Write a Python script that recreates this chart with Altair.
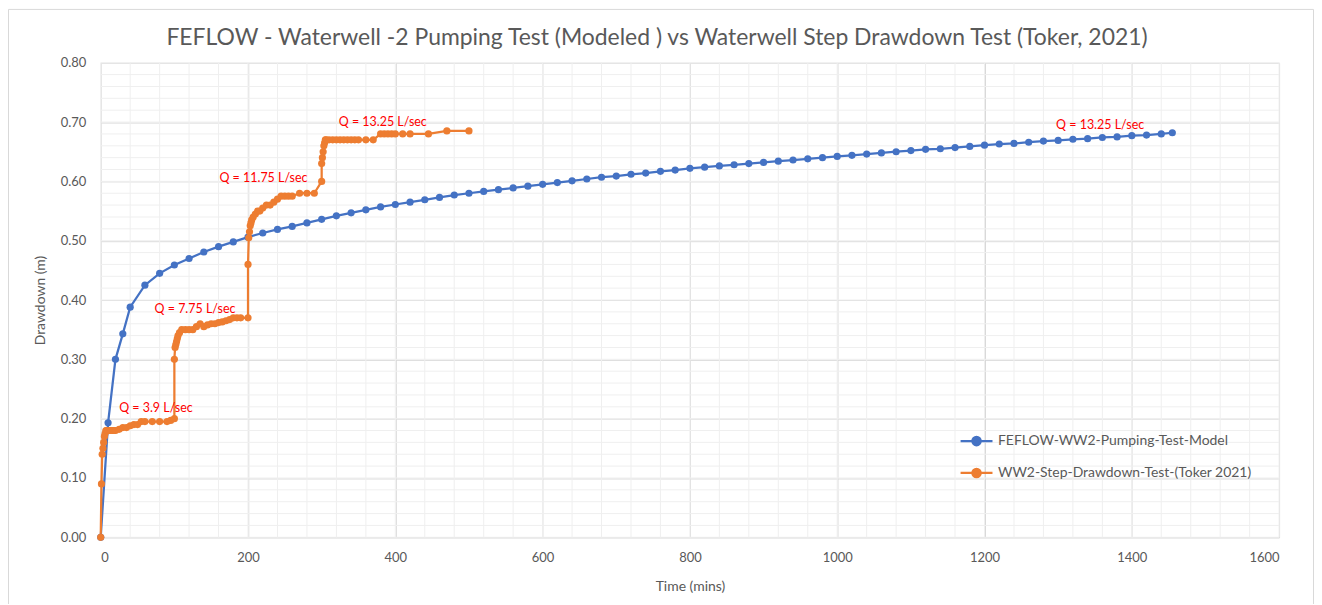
import altair as alt
import pandas as pd

# ---- data ----
blue_name = "FEFLOW-WW2-Pumping-Test-Model"
orange_name = "WW2-Step-Drawdown-Test-(Toker 2021)"

blue_t = [0, 10, 20, 30, 40] + list(range(60, 1441, 20)) + [1455]
blue_d = [0.000, 0.193, 0.300, 0.343, 0.388,
          0.425, 0.445, 0.459, 0.470, 0.481, 0.490, 0.498, 0.506, 0.513, 0.519,
          0.524, 0.530, 0.536, 0.542, 0.547, 0.552, 0.557, 0.561, 0.565, 0.569,
          0.573, 0.577, 0.580, 0.583, 0.586, 0.589, 0.592, 0.595, 0.598, 0.601,
          0.604, 0.607, 0.609, 0.612, 0.614, 0.617, 0.619, 0.622, 0.624, 0.626,
          0.628, 0.630, 0.632, 0.634, 0.636, 0.638, 0.640, 0.642, 0.644, 0.646,
          0.648, 0.650, 0.652, 0.654, 0.655, 0.657, 0.659, 0.661, 0.663, 0.664,
          0.666, 0.668, 0.669, 0.671, 0.672, 0.674, 0.675, 0.677, 0.678, 0.680,
          0.682]

orange_t = [0, 1, 2, 3, 4, 5, 6, 7, 8, 9, 10, 12, 14, 16, 18, 20, 25, 30, 35, 40,
            45, 50, 55, 60, 70, 80, 90, 95, 100,
            100, 101, 102, 103, 104, 105, 107, 110, 115, 120, 125, 130, 135, 140,
            145, 150, 155, 160, 165, 170, 175, 180, 185, 190, 200,
            200, 201, 202, 203, 204, 205, 207, 210, 213, 216, 220, 225, 230, 235,
            240, 245, 250, 255, 260, 270, 280, 290, 300,
            300, 301, 302, 303, 304, 305, 306, 310, 315, 320, 325, 330, 335, 340,
            345, 350, 360, 370, 380, 385, 390, 395, 400, 410, 420, 445, 470, 500]
orange_d = [0.00, 0.09, 0.14, 0.15, 0.16, 0.17, 0.175, 0.18, 0.18, 0.18, 0.18, 0.18,
            0.18, 0.18, 0.18, 0.18, 0.182, 0.185, 0.185, 0.188, 0.19, 0.19, 0.195,
            0.195, 0.195, 0.195, 0.195, 0.197, 0.20,
            0.30, 0.32, 0.325, 0.33, 0.335, 0.34, 0.345, 0.35, 0.35, 0.35, 0.35,
            0.355, 0.36, 0.355, 0.358, 0.36, 0.36, 0.362, 0.363, 0.365, 0.367,
            0.37, 0.37, 0.37, 0.37,
            0.46, 0.505, 0.515, 0.525, 0.53, 0.535, 0.54, 0.545, 0.55, 0.55, 0.555,
            0.56, 0.56, 0.565, 0.57, 0.575, 0.575, 0.575, 0.575, 0.58, 0.58, 0.58,
            0.60,
            0.63, 0.64, 0.65, 0.66, 0.665, 0.67, 0.67, 0.67, 0.67, 0.67, 0.67, 0.67,
            0.67, 0.67, 0.67, 0.67, 0.67, 0.67, 0.68, 0.68, 0.68, 0.68, 0.68, 0.68,
            0.68, 0.68, 0.685, 0.685]

label_text = ["Q = 3.9 L/sec", "Q = 7.75 L/sec", "Q = 11.75 L/sec",
              "Q = 13.25 L/sec", "Q = 13.25 L/sec"]
label_t = [75, 128, 221, 383, 1357]
label_d = [0.218, 0.385, 0.605, 0.700, 0.695]

x_major = list(range(0, 1601, 200))
y_major = [round(i * 0.1, 2) for i in range(9)]
x_minor = list(range(0, 1601, 40))
y_minor = [round(i * 0.02, 2) for i in range(41)]

# ---- tables ----
df = pd.concat([
    pd.DataFrame({"t": blue_t, "d": blue_d, "series": blue_name,
                  "idx": range(len(blue_t))}),
    pd.DataFrame({"t": orange_t, "d": orange_d, "series": orange_name,
                  "idx": range(len(orange_t))}),
], ignore_index=True)
labels = pd.DataFrame({"t": label_t, "d": label_d, "text": label_text})

FONT = "Lato"
GREY = "#595959"

xscale = alt.Scale(domain=[0, 1600], nice=False)
yscale = alt.Scale(domain=[0, 0.8], nice=False)
color = alt.Scale(domain=[blue_name, orange_name], range=["#4472C4", "#ED7D31"])

axis_style = dict(labelFont=FONT, labelFontSize=13, labelColor=GREY,
                  titleFont=FONT, titleFontSize=14, titleColor=GREY,
                  titleFontWeight="normal", ticks=False, grid=True,
                  gridColor="#D9D9D9")
x_axis = alt.Axis(values=x_major, format="d", title="Time (mins)",
                  domainColor="#D9D9D9", labelPadding=14, titlePadding=15,
                  **axis_style)
y_axis = alt.Axis(values=y_major, format=".2f", title="Drawdown (m)",
                  domain=False, labelPadding=15, titlePadding=13, **axis_style)

legend_path = ("M-1.6,0H1.6M-0.42,0A0.42,0.42,0,1,0,0.42,0"
               "A0.42,0.42,0,1,0,-0.42,0Z")

minor_x = alt.Chart(pd.DataFrame({"v": x_minor})).mark_rule(
    color="#EFEFEF", strokeWidth=1).encode(
    x=alt.X("v:Q", scale=xscale, axis=x_axis))
minor_y = alt.Chart(pd.DataFrame({"v": y_minor})).mark_rule(
    color="#EFEFEF", strokeWidth=1).encode(
    y=alt.Y("v:Q", scale=yscale, axis=y_axis))

base = alt.Chart(df).encode(
    x=alt.X("t:Q", scale=xscale, axis=x_axis),
    y=alt.Y("d:Q", scale=yscale, axis=y_axis),
    order=alt.Order("idx:Q"),
)

legend = alt.Legend(
    title=None, orient="none", legendX=867, legendY=368,
    symbolType=legend_path, symbolSize=400, symbolStrokeWidth=2.25,
    symbolOpacity=1, labelOffset=10, rowPadding=11, padding=0,
    labelFont=FONT, labelFontSize=14, labelColor=GREY, labelLimit=500,
)

lines = base.mark_line(strokeWidth=2.25).encode(
    color=alt.Color("series:N", scale=color, legend=legend),
    detail="series:N",
)
points = base.mark_point(filled=True, size=52, opacity=1).encode(
    color=alt.Color("series:N", scale=color, legend=legend),
)

text = alt.Chart(labels).mark_text(
    color="#FF0000", font=FONT, fontSize=12.5, align="center", baseline="middle"
).encode(x=alt.X("t:Q", scale=xscale, axis=x_axis),
         y=alt.Y("d:Q", scale=yscale, axis=y_axis), text="text:N")

# outer chart-area border (decoration)
border = alt.Chart(pd.DataFrame({"k": [0]})).mark_rect(
    fill=None, stroke="#D9D9D9", strokeWidth=1).encode(
    x=alt.value(-92.5), x2=alt.value(1182 + 34.5),
    y=alt.value(-53.5), y2=alt.value(476 + 120))

chart = alt.layer(minor_x, minor_y, lines, points, text, border).properties(
    width=1182, height=476,
    background="white",
    autosize=alt.AutoSizeParams(type="none"),
    padding={"left": 93, "top": 54, "right": 35, "bottom": 66},
    title=alt.TitleParams(
        "FEFLOW - Waterwell -2 Pumping Test (Modeled ) vs Waterwell Step Drawdown Test (Toker, 2021)",
        font=FONT, fontSize=23, fontWeight="normal", color=GREY, anchor="middle",
        offset=0, dy=41, dx=-33, frame="group"),
).configure_view(stroke=None)

chart.save("out.html", embed_options={"renderer": "svg", "actions": False})
